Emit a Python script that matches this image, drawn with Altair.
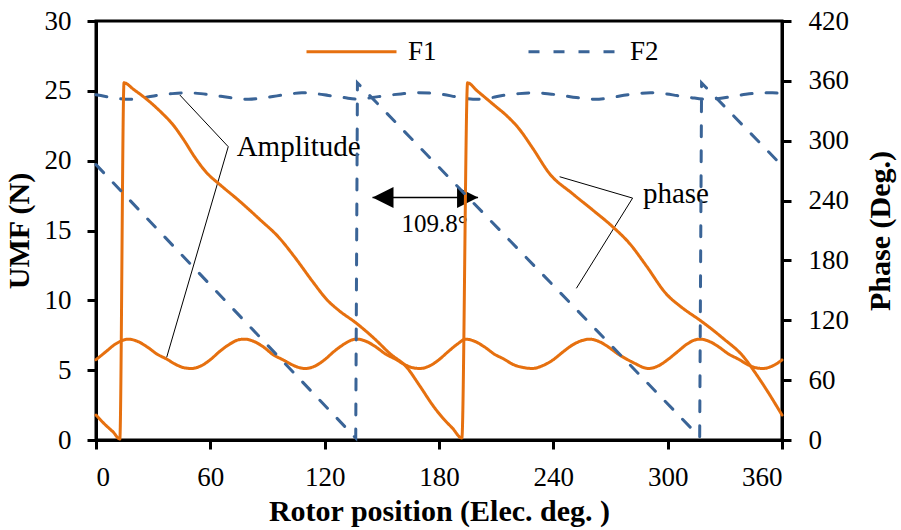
import altair as alt
import pandas as pd

# ---------------- data ----------------
series = ["F1", "F2"]
colors = ["#E6700F", "#3A6497"]

# F1 amplitude (left axis, N)
f1_amp_x = [0, 5, 10, 17, 22, 27, 32, 37, 42, 46, 50, 55, 60, 65, 70, 75, 78, 83, 88, 93, 98, 103, 107, 110,
            115, 120, 125, 130, 134, 137, 142, 147, 152, 157, 162, 166, 170, 175, 180, 185, 190, 194, 199,
            204, 209, 214, 219, 225, 229, 234, 240, 245, 250, 255, 259, 264, 269, 274, 279, 284, 287, 290,
            295, 300, 305, 310, 314, 317, 322, 327, 332, 337, 342, 346, 350, 355, 360]
f1_amp_y = [5.75, 6.3, 6.85, 7.22, 7.05, 6.65, 6.15, 5.8, 5.4, 5.18, 5.12, 5.3, 5.75, 6.35, 6.85, 7.18, 7.22,
            7.05, 6.65, 6.1, 5.75, 5.38, 5.17, 5.12, 5.3, 5.75, 6.35, 6.85, 7.15, 7.22, 7.05, 6.65, 6.15, 5.8,
            5.4, 5.18, 5.12, 5.3, 5.75, 6.35, 6.9, 7.22, 7.05, 6.65, 6.15, 5.8, 5.4, 5.17, 5.12, 5.3, 5.75,
            6.3, 6.8, 7.12, 7.22, 7.05, 6.65, 6.15, 5.75, 5.4, 5.2, 5.12, 5.3, 5.75, 6.3, 6.85, 7.15, 7.22,
            7.05, 6.65, 6.15, 5.8, 5.4, 5.18, 5.12, 5.3, 5.73]

# F2 amplitude (left axis, N)
f2_amp_x = [0, 5, 10, 18, 25, 32, 40, 48, 55, 62, 70, 80, 88, 95, 102, 108, 115, 122, 130, 138, 145, 152,
            160, 168, 175, 182, 190, 200, 207, 214, 222, 230, 238, 245, 252, 262, 270, 277, 284, 291, 298,
            305, 312, 320, 327, 334, 341, 348, 355, 360]
f2_amp_y = [24.72, 24.6, 24.48, 24.39, 24.5, 24.68, 24.8, 24.86, 24.8, 24.68, 24.52, 24.39, 24.5, 24.64,
            24.78, 24.86, 24.8, 24.67, 24.52, 24.4, 24.52, 24.66, 24.78, 24.86, 24.84, 24.74, 24.55, 24.39,
            24.5, 24.68, 24.8, 24.86, 24.78, 24.66, 24.52, 24.39, 24.5, 24.68, 24.8, 24.86, 24.8, 24.66,
            24.52, 24.4, 24.45, 24.6, 24.75, 24.84, 24.86, 24.8]

# F1 phase (right axis, deg)
f1_ph_x = [0, 5, 9, 12.5, 14.7, 20, 25, 30, 35, 40, 46, 52, 58, 65, 75, 86, 96, 104, 114, 121, 128, 136,
           147, 154, 163, 170, 177, 182, 187, 192, 195, 200, 205, 210, 215, 222, 229, 238, 250, 261, 271,
           280, 289, 299, 308, 317, 329, 340, 345, 352, 360]
f1_ph_y = [25, 15, 8, 1, 358, 351, 344, 336, 327, 317, 301, 283, 268, 256, 240, 221, 203, 184, 158, 141,
           129, 118, 100, 87, 73, 54, 34, 22, 12, 2, 358, 350, 342, 334, 326, 312, 293, 267, 247, 230, 214,
           197, 174, 147, 132, 120, 102, 83, 70, 50, 25]

# F2 phase (right axis, deg)
f2_ph_x = [0, 136.3, 137.2, 316.8, 317.8, 360]
f2_ph_y = [276, 2, 358, 3, 358, 275]

x_ticks = [0, 60, 120, 180, 240, 300, 360]
left_ticks = [0, 5, 10, 15, 20, 25, 30]
right_ticks = [0, 60, 120, 180, 240, 300, 360, 420]

# annotation anchors (data units: rotor deg, left axis N)
amp_lead_x = [69.4, 69.4]
amp_lead_y = [21.0, 21.0]
amp_lead_x2 = [44.0, 37.1]
amp_lead_y2 = [24.7, 5.92]
ph_lead_x = [281.6, 281.6]
ph_lead_y = [17.32, 17.32]
ph_lead_x2 = [243.3, 252.1]
ph_lead_y2 = [18.85, 10.86]
label_text = ["Amplitude", "phase"]
label_x = [73.8, 287.0]
label_y = [20.33, 16.94]
arrow_x = [145.1]
arrow_x2 = [200.5]
arrow_y = [17.37]
head_x = [150.6, 195.0]
head_y = [17.37, 17.37]
head_shape = ["M-1,0L1,-1L1,1Z", "M1,0L-1,-1L-1,1Z"]
delta_text = ["109.8°"]
delta_x = [160.3]
delta_y = [14.91]

FONT = "Liberation Serif"


def frame(xs, ys, s):
    return pd.DataFrame({"pos": xs, "val": ys, "series": s})


x_enc = alt.X("pos:Q", scale=alt.Scale(domain=[0, 360], nice=False, zero=False),
              axis=alt.Axis(values=x_ticks, title="Rotor position (Elec. deg. )",
                            labelPadding=15, titlePadding=6))
y_left = alt.Y("val:Q", scale=alt.Scale(domain=[0, 30], nice=False),
               axis=alt.Axis(values=left_ticks, title="UMF (N)", orient="left",
                             labelPadding=16, titlePadding=10))
y_right = alt.Y("val:Q", scale=alt.Scale(domain=[0, 420], nice=False),
                axis=alt.Axis(values=right_ticks, title="Phase (Deg.)", orient="right",
                              labelPadding=17, titlePadding=17, titleAngle=270,
                              titleBaseline="top"))

leg = alt.Legend(title=None, orient="none", legendX=209, legendY=-16, direction="horizontal",
                 symbolType="stroke", symbolSize=8100, symbolStrokeWidth=3,
                 labelFont=FONT, labelFontSize=27, labelColor="black", labelOffset=10,
                 columnPadding=85, padding=0)
color = alt.Color("series:N", scale=alt.Scale(domain=series, range=colors), legend=leg)
dash = alt.StrokeDash("series:N", scale=alt.Scale(domain=series, range=[[1, 0], [11, 14]]), legend=leg)


def line(df, yenc, interp):
    return alt.Chart(df).mark_line(strokeWidth=3, interpolate=interp, strokeCap="round").encode(
        x=x_enc, y=yenc, color=color, strokeDash=dash)


amp_f1 = line(frame(f1_amp_x, f1_amp_y, "F1"), y_left, "monotone")
amp_f2 = line(frame(f2_amp_x, f2_amp_y, "F2"), y_left, "monotone")
ph_f1 = line(frame(f1_ph_x, f1_ph_y, "F1"), y_right, "monotone")
ph_f2 = line(frame(f2_ph_x, f2_ph_y, "F2"), y_right, "linear")

lead_df = pd.DataFrame({"pos": amp_lead_x + ph_lead_x, "val": amp_lead_y + ph_lead_y,
                        "pos2": amp_lead_x2 + ph_lead_x2, "val2": amp_lead_y2 + ph_lead_y2})
leaders = alt.Chart(lead_df).mark_rule(color="black", strokeWidth=1).encode(
    x=x_enc, y=y_left, x2="pos2:Q", y2="val2:Q")

labels = alt.Chart(pd.DataFrame({"pos": label_x, "val": label_y, "t": label_text})).mark_text(
    font=FONT, fontSize=29, align="left", baseline="alphabetic", color="black").encode(
    x=x_enc, y=y_left, text="t:N")

arrow = alt.Chart(pd.DataFrame({"pos": arrow_x, "pos2": arrow_x2, "val": arrow_y})).mark_rule(
    color="black", strokeWidth=1.5).encode(x=x_enc, x2="pos2:Q", y=y_left)

heads = alt.Chart(pd.DataFrame({"pos": head_x, "val": head_y, "shape": head_shape})).mark_point(
    filled=True, color="black", opacity=1, size=441).encode(
    x=x_enc, y=y_left, shape=alt.Shape("shape:N", scale=None))

delta = alt.Chart(pd.DataFrame({"pos": delta_x, "val": delta_y, "t": delta_text})).mark_text(
    font=FONT, fontSize=25, align="left", baseline="alphabetic", color="black").encode(
    x=x_enc, y=y_left, text="t:N")

left_layer = alt.layer(amp_f1, amp_f2, leaders, labels, arrow, heads, delta)
right_layer = alt.layer(ph_f1, ph_f2)

chart = alt.layer(left_layer, right_layer).resolve_scale(y="independent").properties(
    width=686, height=419,
    autosize=alt.AutoSizeParams(type="none"),
    padding={"left": 96, "top": 21, "right": 119, "bottom": 90},
    background="white",
).configure_view(stroke="black", strokeWidth=3).configure_axis(
    grid=False, domainColor="black", domainWidth=3, tickColor="black", tickWidth=3, tickSize=9,
    labelFont=FONT, labelFontSize=27, labelColor="black",
    titleFont=FONT, titleFontSize=30, titleFontWeight="bold", titleColor="black",
)

chart.save("out.html", embed_options={"renderer": "svg", "actions": False})
